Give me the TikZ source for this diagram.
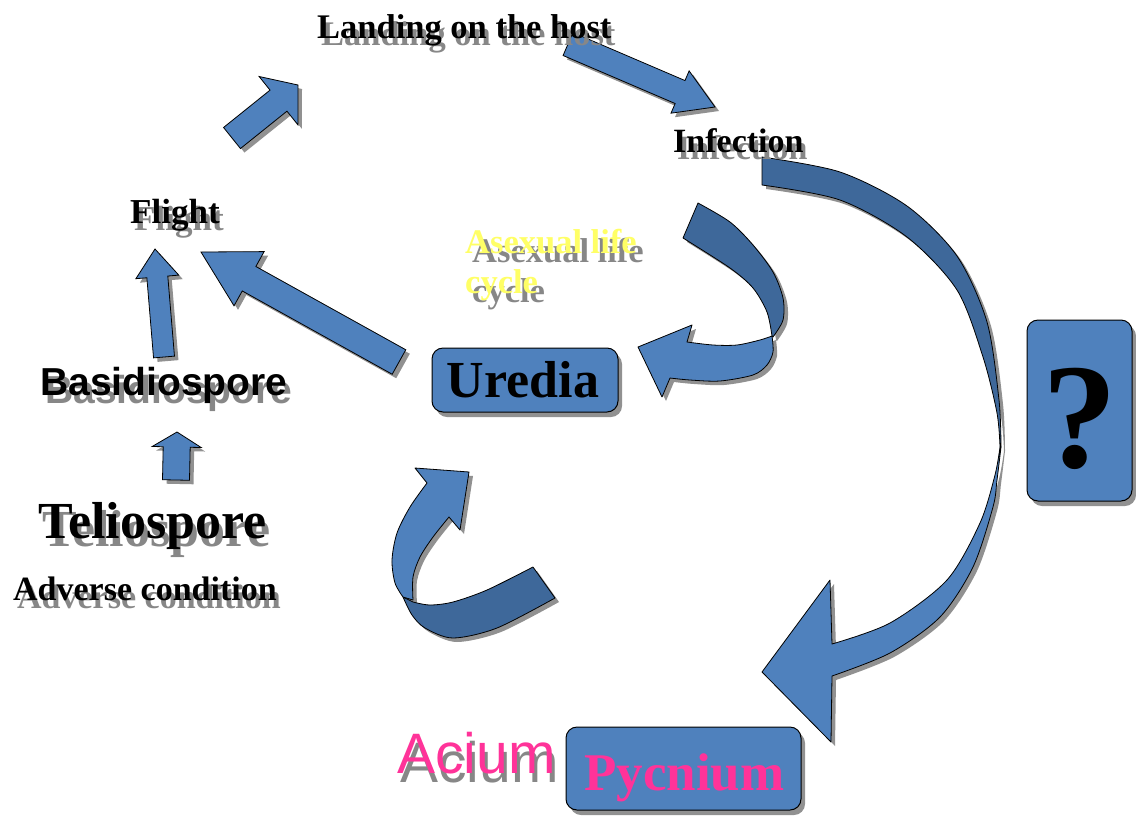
\documentclass[tikz,border=0pt]{standalone}
\usepackage{fontspec}
\setmainfont{Liberation Serif}
\newfontfamily\arialf{Liberation Sans}
\usetikzlibrary{calc,shadows}
\definecolor{lb}{RGB}{79,129,189}
\definecolor{db}{RGB}{62,104,154}
\definecolor{pk}{RGB}{255,51,153}
\definecolor{yl}{RGB}{255,255,102}
\definecolor{shc}{RGB}{145,145,145}
\definecolor{txs}{RGB}{135,135,135}
\newcommand\fsz[1]{\fontsize{#1}{#1}\selectfont}
% block arrow: tail, tip, half shaft width, half head width, head length
\newcommand\blockarrow[5]{%
  \coordinate (ba-b) at ($(#2)!#5pt!(#1)$);
  \draw[arrowshape] ($(#1)!#3pt!-90:(#2)$) -- ($(ba-b)!#3pt!-90:(#2)$)
    -- ($(ba-b)!#4pt!-90:(#2)$) -- (#2) -- ($(ba-b)!#4pt!90:(#2)$)
    -- ($(ba-b)!#3pt!90:(#2)$) -- ($(#1)!#3pt!90:(#2)$) -- cycle;}
\def\bigD{plot[smooth] coordinates {(762,157) (840,172) (907,206) (957,256) (987,322) (999,400) (1001,447)} -- plot[smooth] coordinates {(1000,447) (997,413) (983,357) (957,290) (907,237) (840,200) (762,185)} -- cycle}
\def\bigL{plot[smooth] coordinates {(1001,447) (997,480) (993,507) (973,567) (940,617) (890,653) (832,676)} -- (831,742) -- (762,672) -- (830,580) -- plot[smooth] coordinates {(832,644) (890,623) (947,580) (980,523) (995,475) (1000,447)} -- cycle}
\def\asD{(683,238) -- plot[smooth] coordinates {(698,203) (730,222) (753,245) (773,272) (783,298) (783,320) (773,337)} -- plot[smooth] coordinates {(772,336) (767,312) (753,288) (730,268) (683,238)} -- cycle}
\def\asL{plot[smooth] coordinates {(772,336) (773,352) (767,365) (753,375) (720,381) (690,380) (670,378)} -- (662,397) -- (638,347) -- (692,325) -- plot[smooth] coordinates {(687,342) (713,345) (737,345) (760,340) (772,336)} -- cycle}
\def\loL{(415,468) -- (469,472) -- (460,530) -- plot[smooth] coordinates {(449,517) (433,537) (420,557) (413,577) (413,600)} -- plot[smooth] coordinates {(403,597) (395,583) (392,560) (397,533) (410,507) (427,483)} -- cycle}
\def\loD{plot[smooth] coordinates {(403,597) (412,615) (425,628) (453,638) (497,628) (555,598)} -- (533,567) -- plot[smooth] coordinates {(533,567) (487,590) (453,602) (430,605) (413,602)} -- cycle}
\begin{document}
\begin{tikzpicture}[x=1pt,y=-1pt,
  arrowshape/.style={fill=lb,draw=black,line width=0.8pt,line join=miter,
    drop shadow={shadow xshift=4pt,shadow yshift=-4pt,fill=shc,opacity=1}},
  curvepart/.style={fill=lb,draw=black,line width=0.8pt,line join=round},
  darkpart/.style={curvepart,fill=db},
  box/.style={draw=black,fill=lb,line width=1pt,rounded corners=11pt,
    drop shadow={shadow xshift=4pt,shadow yshift=-5pt,fill=shc,opacity=1}},
  lbl/.style={inner sep=0pt,anchor=base west},
  shd/.style={lbl,text=txs},
  tb/.style={font=\bfseries\fsz{#1}},
  ab/.style={font=\arialf\bfseries\fsz{#1}},
  ar/.style={font=\arialf\fsz{#1}}]
\useasboundingbox (0,0) rectangle (1136,815);
\fill[white] (0,0) rectangle (1136,815);

% straight block arrows
\coordinate (a1t) at (232,138); \coordinate (a1h) at (298,85);
\coordinate (a2t) at (568,44);  \coordinate (a2h) at (715,107);
\coordinate (a3t) at (399,362); \coordinate (a3h) at (201,252);
\coordinate (a4t) at (164,357); \coordinate (a4h) at (155,249);
\coordinate (a5t) at (176,480); \coordinate (a5h) at (177,432);
\blockarrow{a1t}{a1h}{13.5}{31}{25}
\blockarrow{a2t}{a2h}{12.5}{23}{38}
\blockarrow{a3t}{a3h}{14}{31}{55}
\blockarrow{a4t}{a4h}{10.5}{21.5}{28}
\blockarrow{a5t}{a5h}{13.5}{24.5}{15}

% curved arrows: shadows first
\begin{scope}[xshift=4pt,yshift=-4pt]
  \fill[shc] \bigD; \fill[shc] \bigL;
  \fill[shc] \asD; \fill[shc] \asL;
  \fill[shc] \loD; \fill[shc] \loL;
\end{scope}
\draw[darkpart] \bigD; \draw[curvepart] \bigL;
\draw[darkpart] \asD;  \draw[curvepart] \asL;
\draw[darkpart] \loD;  \draw[curvepart] \loL;

% boxes
\node[box,minimum width=186pt,minimum height=64pt] (uredia-box) at (525,380) {};
\node[box,minimum width=105pt,minimum height=181pt] (q-box) at (1079.5,410.5) {};
\node[box,minimum width=235pt,minimum height=83pt] (pyc-box) at (683.5,768.5) {};

% texts
\node[shd,tb=34.5] (land-s) at (321,45) {Landing on the host};
\node[lbl,tb=34.5] (land) at (317,38) {Landing on the host};
\node[shd,tb=34] (inf-s) at (677,159) {Infection};
\node[lbl,tb=34] (inf) at (673,152) {Infection};
\node[shd,tb=35] (flight-s) at (134,230) {Flight};
\node[lbl,tb=35] (flight) at (130,223) {Flight};
\node[shd,tb=34.5] (asex1-s) at (472,262) {Asexual life};
\node[shd,tb=34.5] (asex2-s) at (472,302) {cycle};
\node[lbl,tb=34.5,text=yl] (asex1) at (465,253) {Asexual life};
\node[lbl,tb=34.5,text=yl] (asex2) at (465,293) {cycle};
\node[shd,ab=39] (basid-s) at (45,403) {Basidiospore};
\node[lbl,ab=39] (basid) at (40,395) {Basidiospore};
\node[shd,tb=52] (telio-s) at (42,546) {Teliospore};
\node[lbl,tb=52] (telio) at (38,538) {Teliospore};
\node[shd,tb=34] (adv-s) at (17,608) {Adverse condition};
\node[lbl,tb=34] (adv) at (13,600) {Adverse condition};
\node[inner sep=0pt,anchor=base,tb=52] (uredia) at (523,397) {Uredia};
\node[inner sep=0pt,anchor=base,tb=150] (q) at (1080,467) {?};
\node[lbl,tb=53,text=pk] (pyc) at (584,790) {Pycnium};
\node[shd,ar=57] (acium-s) at (400,782) {Acium};
\node[lbl,ar=57,text=pk] (acium) at (397,773) {Acium};
\end{tikzpicture}
\end{document}
